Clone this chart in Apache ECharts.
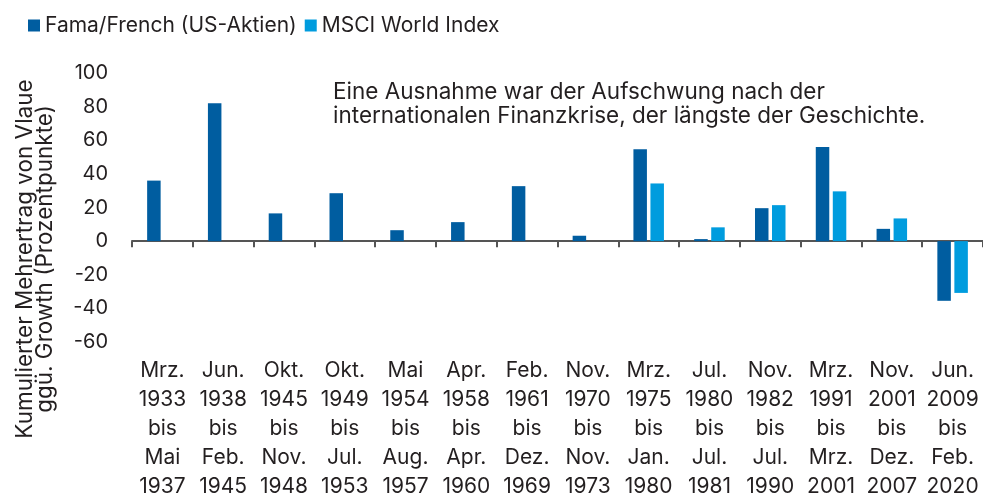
<!DOCTYPE html>
<html>
<head>
<meta charset="utf-8">
<script src="https://cdn.jsdelivr.net/npm/echarts@6/dist/echarts.min.js"></script>
<style>
  html, body { margin: 0; padding: 0; background: #fff; }
  #chart { width: 983px; height: 497px; }
</style>
</head>
<body>
<div id="chart"></div>
<script>
// Zeiträume (Kategorien)
var periods = [
    'Mrz.\n1933\nbis\nMai\n1937',
    'Jun.\n1938\nbis\nFeb.\n1945',
    'Okt.\n1945\nbis\nNov.\n1948',
    'Okt.\n1949\nbis\nJul.\n1953',
    'Mai\n1954\nbis\nAug.\n1957',
    'Apr.\n1958\nbis\nApr.\n1960',
    'Feb.\n1961\nbis\nDez.\n1969',
    'Nov.\n1970\nbis\nNov.\n1973',
    'Mrz.\n1975\nbis\nJan.\n1980',
    'Jul.\n1980\nbis\nJul.\n1981',
    'Nov.\n1982\nbis\nJul.\n1990',
    'Mrz.\n1991\nbis\nMrz.\n2001',
    'Nov.\n2001\nbis\nDez.\n2007',
    'Jun.\n2009\nbis\nFeb.\n2020'
];
var famaFrench = [36, 82, 16.5, 28.5, 6.5, 11.3, 32.7, 3.2, 54.6, 1.2, 19.6, 56, 7.3, -35.5];
var msciWorld = [null, null, null, null, null, null, null, null, 34.3, 8.2, 21.4, 29.6, 13.5, -30.8];
var yTicks = { min: -60, max: 100, interval: 20 };

var fontFamily = 'Inter, "Open Sans", sans-serif';
var textColor = '#231f20';

var chart = echarts.init(document.getElementById('chart'));
chart.setOption({
    animation: false,
    color: ['#005da0', '#009cde'],
    textStyle: { fontFamily: fontFamily, color: textColor },
    legend: {
        left: 23,
        top: 10,
        itemWidth: 12,
        itemHeight: 12,
        itemGap: 8,
        icon: 'rect',
        textStyle: { fontSize: 21, color: textColor, fontFamily: fontFamily },
        data: ['Fama/French (US-Aktien)', 'MSCI World Index']
    },
    grid: {
        left: 132,
        right: 0,
        top: 73,
        bottom: 155,
        containLabel: false,
        outerBoundsMode: 'none'
    },
    xAxis: [{
        type: 'category',
        position: 'bottom',
        data: periods,
        axisLine: { onZero: true, lineStyle: { color: '#555', width: 2 } },
        axisTick: { show: true, length: 6, lineStyle: { color: '#555', width: 2 } },
        axisLabel: { show: false }
    }, {
        type: 'category',
        position: 'bottom',
        data: periods,
        axisLine: { show: false, onZero: false },
        axisTick: { show: false },
        axisLabel: {
            show: true,
            interval: 0,
            margin: 14,
            fontSize: 21,
            lineHeight: 29,
            color: textColor,
            fontFamily: fontFamily
        }
    }],
    yAxis: {
        type: 'value',
        min: yTicks.min,
        max: yTicks.max,
        interval: yTicks.interval,
        axisLine: { show: false },
        axisTick: { show: false },
        splitLine: { show: false },
        axisLabel: { fontSize: 20, margin: 24, color: textColor, fontFamily: fontFamily }
    },
    graphic: [{
        type: 'text',
        left: 333,
        top: 80,
        style: {
            text: 'Eine Ausnahme war der Aufschwung nach der\ninternationalen Finanzkrise, der längste der Geschichte.',
            font: '22.5px ' + fontFamily,
            fill: textColor,
            lineHeight: 24
        }
    }, {
        type: 'text',
        x: 35,
        y: 259,
        rotation: Math.PI / 2,
        style: {
            text: 'Kumulierter Mehrertrag von Vlaue\nggü. Growth (Prozentpunkte)',
            font: '22.5px ' + fontFamily,
            fill: textColor,
            align: 'center',
            verticalAlign: 'middle',
            lineHeight: 20
        }
    }],
    series: [{
        name: 'Fama/French (US-Aktien)',
        type: 'bar',
        barWidth: 13.5,
        barGap: '26%',
        data: famaFrench
    }, {
        name: 'MSCI World Index',
        type: 'bar',
        barWidth: 13.5,
        barGap: '26%',
        data: msciWorld
    }]
});
</script>
</body>
</html>
